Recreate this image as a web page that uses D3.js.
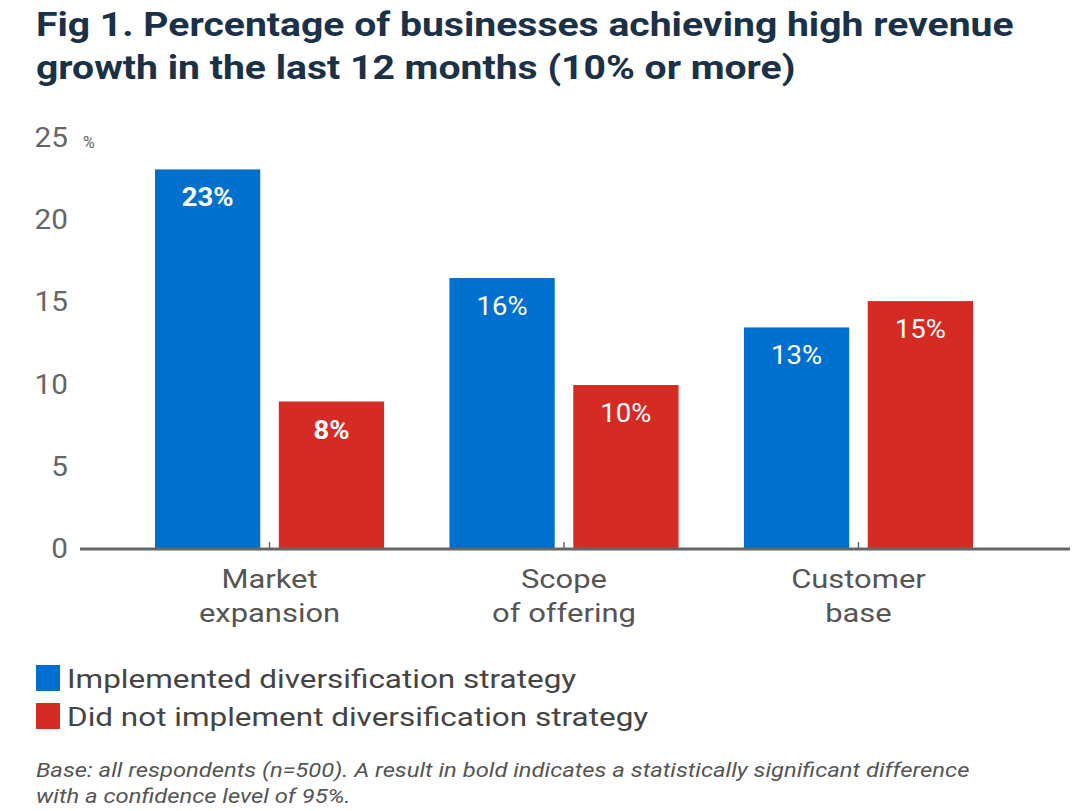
<!DOCTYPE html>
<html>
<head>
<meta charset="utf-8">
<script src="https://d3js.org/d3.v7.min.js"></script>
<style>
  body { margin: 0; background: #fff; font-family: Roboto, "Noto Sans", sans-serif; }
  svg { display: block; }
</style>
</head>
<body>
<div id="chart"></div>
<script>
// data
const categories = ["Market expansion", "Scope of offering", "Customer base"];
const categoryLines = [["Market", "expansion"], ["Scope", "of offering"], ["Customer", "base"]];
const seriesNames = ["Implemented diversification strategy", "Did not implement diversification strategy"];
const implemented = [23.0, 16.4, 13.4];
const notImplemented = [8.9, 9.9, 15.0];
const implementedLabels = ["23%", "16%", "13%"];
const notImplementedLabels = ["8%", "10%", "15%"];
const implementedBold = [true, false, false];   // significant results in bold
const notImplementedBold = [true, false, false];
const yTicks = [0, 5, 10, 15, 20, 25];

const colors = ["#0070cf", "#d62a25"];

const W = 1080, H = 811;
const svg = d3.select("#chart").append("svg").attr("width", W).attr("height", H);

// the source image is a bit wider than plain Roboto, stretch text horizontally
function stretch(sel, k) {
  sel.each(function() {
    const len = this.getComputedTextLength();
    d3.select(this).attr("textLength", len * k).attr("lengthAdjust", "spacingAndGlyphs");
  });
}

// title
const title = svg.append("text")
  .attr("fill", "#1a3148")
  .attr("font-size", 33).attr("font-weight", 700);
title.append("tspan").attr("x", 36).attr("y", 36).text("Fig 1. Percentage of businesses achieving high revenue");
title.append("tspan").attr("x", 36).attr("y", 79).text("growth in the last 12 months (10% or more)");
stretch(title.selectAll("tspan"), 1.185);

// scales
const y = d3.scaleLinear().domain([0, 25]).range([548, 136.5]);
const x0 = d3.scaleBand().domain(categories).range([121, 1007]).paddingInner(0.222).paddingOuter(0.1154);
const x1 = d3.scaleBand().domain([0, 1]).range([0, x0.bandwidth()]).paddingInner(0.15);

// y axis labels only
const yAxis = svg.append("g")
  .attr("transform", "translate(68,0)")
  .call(d3.axisLeft(y).tickValues(yTicks).tickSize(0).tickPadding(0));
yAxis.select(".domain").remove();
yAxis.selectAll("text")
  .attr("font-family", "Roboto, sans-serif")
  .attr("font-size", 27)
  .attr("fill", "#666")
  .attr("dy", "0.36em");
stretch(yAxis.selectAll("text"), 1.1);

svg.append("text")
  .attr("x", 83).attr("y", y(25) + 11)
  .attr("font-size", 16).attr("fill", "#666")
  .text("%");

// bars
const rows = categories.map((c, i) => ({
  cat: c,
  vals: [
    {s: 0, v: implemented[i], label: implementedLabels[i], bold: implementedBold[i]},
    {s: 1, v: notImplemented[i], label: notImplementedLabels[i], bold: notImplementedBold[i]}
  ]
}));

const groups = svg.selectAll(".grp")
  .data(rows).enter().append("g")
  .attr("class", "grp")
  .attr("transform", d => "translate(" + x0(d.cat) + ",0)");

groups.selectAll("rect")
  .data(d => d.vals).enter().append("rect")
  .attr("x", d => x1(d.s))
  .attr("width", x1.bandwidth())
  .attr("y", d => y(d.v))
  .attr("height", d => y(0) - y(d.v))
  .attr("fill", d => colors[d.s]);

const vals = groups.selectAll(".val")
  .data(d => d.vals).enter().append("text")
  .attr("class", "val")
  .attr("x", d => x1(d.s) + x1.bandwidth() / 2)
  .attr("y", d => y(d.v) + 37)
  .attr("text-anchor", "middle")
  .attr("font-size", 25)
  .attr("font-weight", d => d.bold ? 700 : 400)
  .attr("fill", "#fff")
  .text(d => d.label);
stretch(vals, 1.1);

// baseline and category ticks
svg.append("line")
  .attr("x1", 80).attr("x2", 1070)
  .attr("y1", y(0) + 1).attr("y2", y(0) + 1)
  .attr("stroke", "#666").attr("stroke-width", 3);

const xAxis = svg.append("g")
  .attr("transform", "translate(0," + y(0) + ")")
  .call(d3.axisTop(x0).tickSize(6).tickFormat(""));
xAxis.select(".domain").remove();
xAxis.selectAll("line").attr("stroke", "#666").attr("stroke-width", 1.5);

// category labels
categories.forEach((c, i) => {
  const t = svg.append("text")
    .attr("text-anchor", "middle")
    .attr("font-size", 26)
    .attr("fill", "#555");
  categoryLines[i].forEach((ln, j) => {
    t.append("tspan")
      .attr("x", x0(c) + x0.bandwidth() / 2)
      .attr("y", 588 + j * 34)
      .text(ln);
  });
  stretch(t.selectAll("tspan"), 1.19);
});

// legend
const legend = svg.selectAll(".leg")
  .data(seriesNames).enter().append("g")
  .attr("class", "leg")
  .attr("transform", (d, i) => "translate(36," + (665 + i * 38) + ")");
legend.append("rect")
  .attr("width", 24).attr("height", 26)
  .attr("fill", (d, i) => colors[i]);
const legText = legend.append("text")
  .attr("x", 31).attr("y", 23)
  .attr("font-size", 26).attr("fill", "#444")
  .text(d => d);
stretch(legText, 1.21);

// footnote
const note = svg.append("text")
  .attr("font-size", 20.5).attr("font-style", "italic")
  .attr("fill", "#555");
note.append("tspan").attr("x", 36).attr("y", 777).text("Base: all respondents (n=500). A result in bold indicates a statistically significant difference");
note.append("tspan").attr("x", 36).attr("y", 803).text("with a confidence level of 95%.");
stretch(note.selectAll("tspan"), 1.16);
</script>
</body>
</html>
